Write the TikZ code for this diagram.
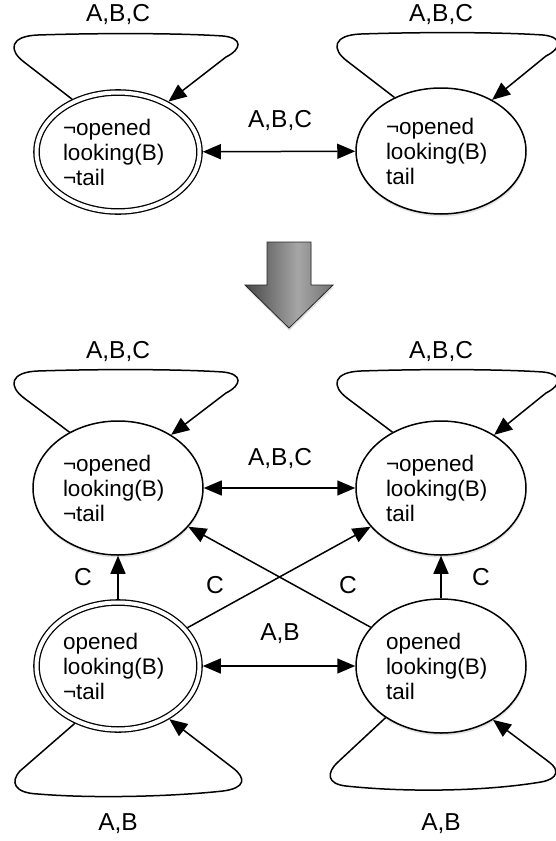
\documentclass[tikz,border=0pt]{standalone}
\usepackage{fontspec}
\setmainfont{Liberation Sans}
\usetikzlibrary{arrows.meta,shapes.geometric,shadows}
\pgfdeclarehorizontalshading{bigarrowshade}{100bp}{color(0bp)=(black!92); color(25bp)=(black!72); color(55bp)=(black!35); color(75bp)=(black!55); color(100bp)=(black!80)}
\newcommand\uploop[2]{\draw[edge, shift={(#1.center)}] (#1.131) -- (-94,-90) .. controls (-110,-102) and (-108,-116) .. (-80,-117) .. controls (-20,-119) and ({60+#2},-119) .. ({105+#2},-116) .. controls ({125+#2},-114) and ({124+#2},-103) .. ({108+#2},-95) -- (#1.45);}
\begin{document}
\begin{tikzpicture}[x=1pt,y=-1pt,
  state/.style={ellipse, draw, line width=1.5pt, fill=white, inner sep=0pt,
    text width=110pt, align=left, font=\fontsize{22.5}{25}\selectfont,
    minimum width=170pt,
    drop shadow={opacity=0.22, shadow xshift=0.5pt, shadow yshift=-2.5pt}},
  accept/.style={state, double, double distance=4pt, line width=1.3pt,
    minimum width=163pt, outer sep=3.3pt},
  edge/.style={line width=1.5pt, -{Triangle[length=18pt,width=15pt]}},
  both/.style={line width=1.5pt, {Triangle[length=18pt,width=15pt]}-{Triangle[length=18pt,width=15pt]}},
  lbl/.style={font=\fontsize{24.5}{28}\selectfont, inner sep=0pt, anchor=base},
]
\useasboundingbox (0,0) rectangle (556,841);

% top section
\node[accept, minimum height=119pt] (A) at (118,152) {¬opened\\looking(B)\\¬tail};
\node[state, minimum height=126pt] (B) at (441,151) {¬opened\\looking(B)\\tail};
\draw[both] (A) -- (B);
\node[lbl] (lab1) at (280,127) {A,B,C};
\uploop{A}{0}
\uploop{B}{-3}
\node[lbl] (lab2) at (118,21) {A,B,C};
\node[lbl] (lab3) at (441,21) {A,B,C};

% big arrow
\path[draw=black!85, line width=0.8pt, shading=bigarrowshade,
  drop shadow={opacity=0.25, shadow xshift=0.5pt, shadow yshift=-2.5pt}]
  (267,242) -- (311,242) -- (311,285) -- (333,285) -- (289,328) -- (245,285) -- (267,285) -- cycle;

% bottom section
\node[state, minimum height=134pt] (C) at (118,488) {¬opened\\looking(B)\\¬tail};
\node[state, minimum height=134pt] (D) at (441,488) {¬opened\\looking(B)\\tail};
\node[accept, minimum height=127pt] (E) at (118,666) {opened\\looking(B)\\¬tail};
\node[state, minimum height=134pt] (F) at (441,666) {opened\\looking(B)\\tail};

\draw[both] (C) -- (D);
\draw[both] (E) -- (F);
\draw[edge] (E) -- (C);
\draw[edge] (F) -- (D);
\draw[edge] (E) -- (D);
\draw[edge] (F) -- (C);

\uploop{C}{0}
\uploop{D}{-3}

\draw[edge, shift={(E.center)}] (E.233) -- (-98,105) .. controls (-108,116) and (-104,127) .. (-80,128) .. controls (-20,133) and (60,130) .. (105,125) .. controls (128,122) and (128,112) .. (115,102) -- (E.314);
\draw[edge, shift={(F.center)}] (F.223) -- (-103,96) .. controls (-115,107) and (-114,118) .. (-95,120) .. controls (-40,126) and (40,126) .. (100,116) .. controls (117,113) and (119,104) .. (108,96) -- (F.314);

\node[lbl] (l4) at (118,358) {A,B,C};
\node[lbl] (l5) at (441,358) {A,B,C};
\node[lbl] (l6) at (280,465) {A,B,C};
\node[lbl] (l7) at (280,640) {A,B};
\node[lbl] (l8) at (83,585) {C};
\node[lbl] (l9) at (215,593) {C};
\node[lbl] (l10) at (348,593) {C};
\node[lbl] (l11) at (481,585) {C};
\node[lbl] (l12) at (118,830) {A,B};
\node[lbl] (l13) at (441,830) {A,B};
\end{tikzpicture}
\end{document}
